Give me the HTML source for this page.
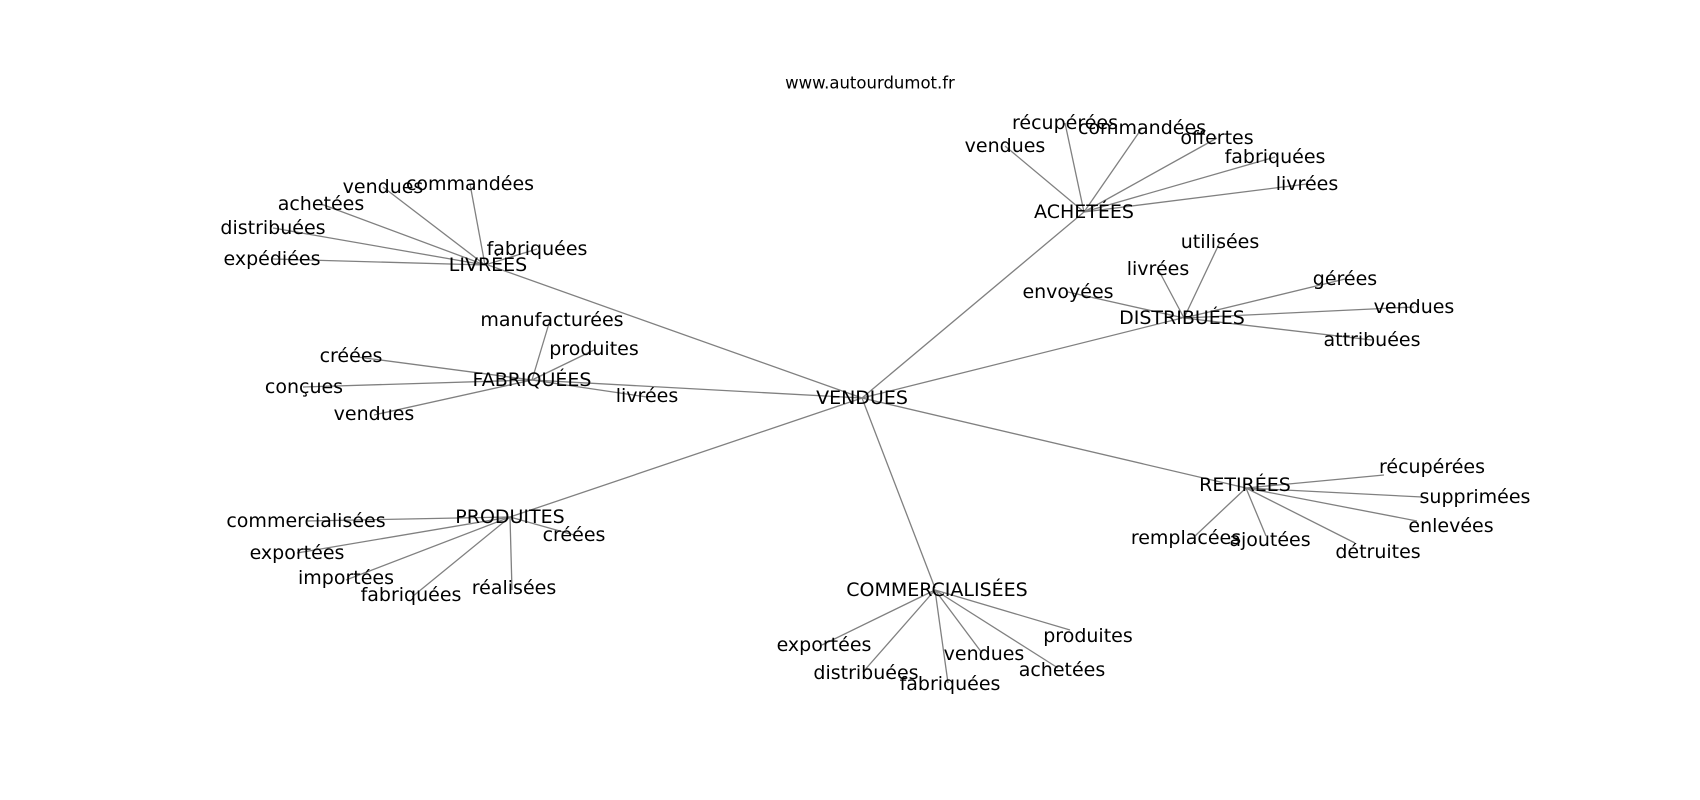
<!DOCTYPE html>
<html><head><meta charset="utf-8"><style>body{margin:0;background:#fff}svg{display:block}text{font-family:"DejaVu Sans","Liberation Sans",sans-serif;font-size:19px;fill:#000;text-anchor:middle;dominant-baseline:central}</style></head><body>
<svg width="1700" height="800" viewBox="0 0 1700 800" xmlns="http://www.w3.org/2000/svg">
<g stroke="#808080" stroke-width="1.3" fill="none">
<line x1="862" y1="398" x2="488" y2="265"/>
<line x1="862" y1="398" x2="532" y2="380"/>
<line x1="862" y1="398" x2="510" y2="517"/>
<line x1="862" y1="398" x2="1084" y2="212"/>
<line x1="862" y1="398" x2="1182" y2="318"/>
<line x1="862" y1="398" x2="1246" y2="488"/>
<line x1="862" y1="398" x2="935" y2="588"/>
<line x1="485" y1="265" x2="383" y2="187"/>
<line x1="485" y1="265" x2="470" y2="184"/>
<line x1="485" y1="265" x2="321" y2="204"/>
<line x1="485" y1="265" x2="273" y2="228"/>
<line x1="485" y1="265" x2="272" y2="259"/>
<line x1="485" y1="265" x2="537" y2="249"/>
<line x1="532" y1="380" x2="550" y2="320"/>
<line x1="532" y1="380" x2="594" y2="350"/>
<line x1="532" y1="380" x2="350" y2="356"/>
<line x1="532" y1="380" x2="303" y2="387"/>
<line x1="532" y1="380" x2="374" y2="415"/>
<line x1="532" y1="380" x2="647" y2="397"/>
<line x1="1084" y1="212" x2="1005" y2="146"/>
<line x1="1084" y1="212" x2="1065" y2="123"/>
<line x1="1084" y1="212" x2="1142" y2="128"/>
<line x1="1084" y1="212" x2="1217" y2="138"/>
<line x1="1084" y1="212" x2="1275" y2="157"/>
<line x1="1084" y1="212" x2="1307" y2="184"/>
<line x1="1184" y1="318" x2="1220" y2="242"/>
<line x1="1184" y1="318" x2="1158" y2="269"/>
<line x1="1184" y1="318" x2="1068" y2="292"/>
<line x1="1184" y1="318" x2="1345" y2="279"/>
<line x1="1184" y1="318" x2="1414" y2="307"/>
<line x1="1184" y1="318" x2="1372" y2="340"/>
<line x1="510" y1="517" x2="306" y2="521"/>
<line x1="510" y1="517" x2="297" y2="553"/>
<line x1="510" y1="517" x2="346" y2="580"/>
<line x1="510" y1="517" x2="412" y2="597"/>
<line x1="510" y1="517" x2="512" y2="590"/>
<line x1="510" y1="517" x2="574" y2="535"/>
<line x1="1246" y1="488" x2="1384" y2="475"/>
<line x1="1246" y1="488" x2="1422" y2="497"/>
<line x1="1246" y1="488" x2="1417" y2="521"/>
<line x1="1246" y1="488" x2="1355" y2="543"/>
<line x1="1246" y1="488" x2="1266" y2="536"/>
<line x1="1246" y1="488" x2="1195" y2="536"/>
<line x1="935" y1="590" x2="822" y2="645"/>
<line x1="935" y1="590" x2="863" y2="672"/>
<line x1="935" y1="590" x2="948" y2="683"/>
<line x1="935" y1="590" x2="982" y2="653"/>
<line x1="935" y1="590" x2="1058" y2="668"/>
<line x1="935" y1="590" x2="1070" y2="630"/>
</g>
<g>
<text x="870" y="83" style="font-size:16.5px">www.autourdumot.fr</text>
<text x="862" y="398">VENDUES</text>
<text x="488" y="265">LIVRÉES</text>
<text x="383" y="187">vendues</text>
<text x="470" y="184">commandées</text>
<text x="321" y="204">achetées</text>
<text x="273" y="228">distribuées</text>
<text x="272" y="259">expédiées</text>
<text x="537" y="249">fabriquées</text>
<text x="532" y="380">FABRIQUÉES</text>
<text x="552" y="320">manufacturées</text>
<text x="594" y="349">produites</text>
<text x="351" y="356">créées</text>
<text x="304" y="387">conçues</text>
<text x="374" y="414">vendues</text>
<text x="647" y="396">livrées</text>
<text x="1084" y="212">ACHETÉES</text>
<text x="1005" y="146">vendues</text>
<text x="1065" y="123">récupérées</text>
<text x="1142" y="128">commandées</text>
<text x="1217" y="138">offertes</text>
<text x="1275" y="157">fabriquées</text>
<text x="1307" y="184">livrées</text>
<text x="1220" y="242">utilisées</text>
<text x="1158" y="269">livrées</text>
<text x="1068" y="292">envoyées</text>
<text x="1182" y="318">DISTRIBUÉES</text>
<text x="1345" y="279">gérées</text>
<text x="1414" y="307">vendues</text>
<text x="1372" y="340">attribuées</text>
<text x="510" y="517">PRODUITES</text>
<text x="306" y="521">commercialisées</text>
<text x="297" y="553">exportées</text>
<text x="346" y="578">importées</text>
<text x="411" y="595">fabriquées</text>
<text x="514" y="588">réalisées</text>
<text x="574" y="535">créées</text>
<text x="1245" y="485">RETIRÉES</text>
<text x="1432" y="467">récupérées</text>
<text x="1475" y="497">supprimées</text>
<text x="1451" y="526">enlevées</text>
<text x="1378" y="552">détruites</text>
<text x="1270" y="540">ajoutées</text>
<text x="1186" y="538">remplacées</text>
<text x="937" y="590">COMMERCIALISÉES</text>
<text x="824" y="645">exportées</text>
<text x="866" y="673">distribuées</text>
<text x="950" y="684">fabriquées</text>
<text x="984" y="654">vendues</text>
<text x="1062" y="670">achetées</text>
<text x="1088" y="636">produites</text>
</g>
</svg>
</body></html>
